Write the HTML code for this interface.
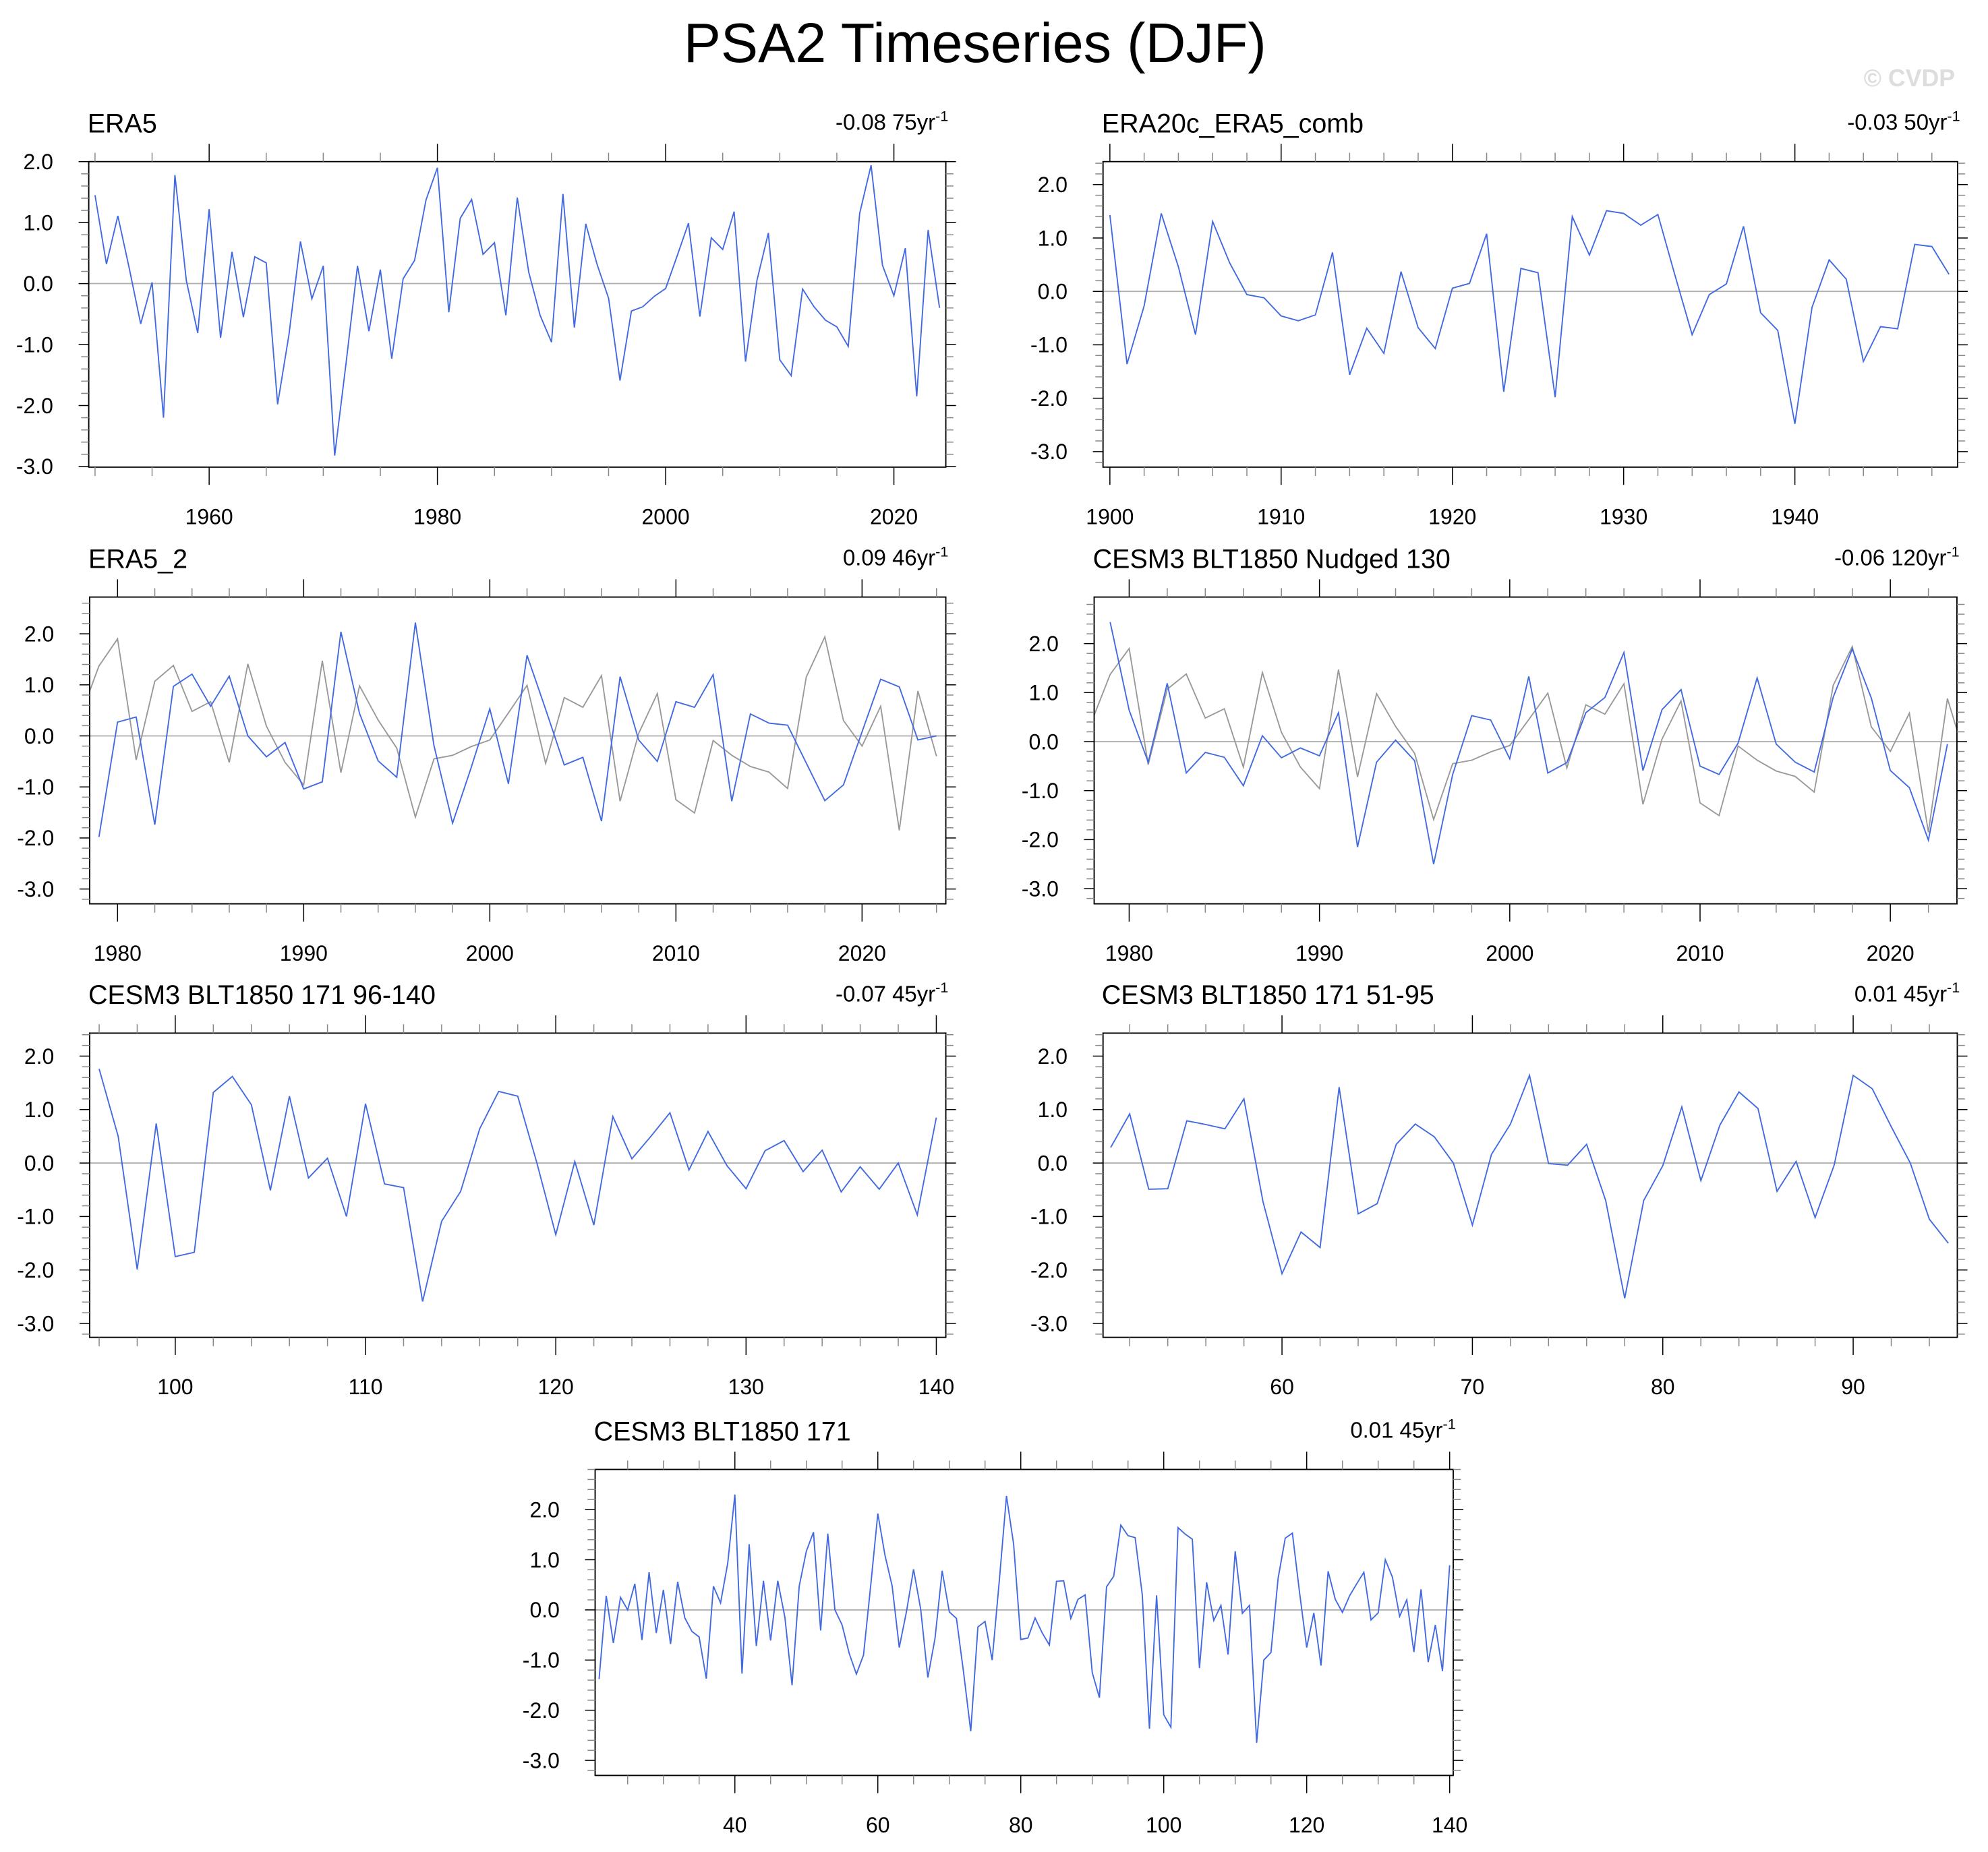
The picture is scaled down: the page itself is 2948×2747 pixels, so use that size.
<!DOCTYPE html>
<html><head><meta charset="utf-8"><style>
html,body{margin:0;padding:0;background:#fff;}
svg{display:block;font-family:"Liberation Sans",Arial,sans-serif;}
</style></head><body>
<svg id="fig" width="2948" height="2747" viewBox="0 0 1568 1461" preserveAspectRatio="none" xmlns="http://www.w3.org/2000/svg">
<text x="769" y="49" font-size="44" text-anchor="middle" fill="#000">PSA2 Timeseries (DJF)</text>
<text x="1542" y="68" font-size="19" font-weight="bold" text-anchor="end" fill="#ddd">© CVDP</text>
</svg>
<script>
// ---- data ----
const era5Start = 1950;
const era5Values = [1.45,0.32,1.11,0.25,-0.66,0.02,-2.2,1.78,0.05,-0.81,1.22,-0.89,0.52,-0.55,0.44,0.34,-1.98,-0.83,0.69,-0.25,0.29,-2.82,-1.3,0.29,-0.78,0.23,-1.23,0.08,0.38,1.37,1.9,-0.47,1.07,1.38,0.48,0.67,-0.52,1.41,0.19,-0.52,-0.96,1.47,-0.72,0.98,0.31,-0.24,-1.59,-0.45,-0.38,-0.21,-0.08,0.45,0.99,-0.54,0.75,0.56,1.18,-1.28,0.05,0.83,-1.25,-1.51,-0.09,-0.38,-0.6,-0.71,-1.03,1.15,1.94,0.3,-0.2,0.58,-1.85,0.88,-0.4];
const era20cStart = 1900;
const era20cValues = [1.43,-1.36,-0.27,1.46,0.46,-0.81,1.31,0.53,-0.06,-0.12,-0.46,-0.55,-0.44,0.73,-1.56,-0.69,-1.16,0.37,-0.68,-1.07,0.06,0.15,1.08,-1.88,0.43,0.35,-1.98,1.4,0.68,1.51,1.46,1.24,1.44,0.3,-0.81,-0.06,0.14,1.22,-0.4,-0.73,-2.48,-0.3,0.59,0.23,-1.31,-0.66,-0.7,0.88,0.84,0.32];
const era5b2Start = 1979;
const era5b2Values = [-1.98,0.27,0.37,-1.74,0.97,1.21,0.58,1.17,0.0,-0.41,-0.13,-1.04,-0.9,2.04,0.44,-0.49,-0.81,2.22,-0.19,-1.71,-0.62,0.53,-0.94,1.58,0.52,-0.57,-0.42,-1.67,1.16,-0.08,-0.5,0.67,0.56,1.2,-1.28,0.43,0.25,0.21,-0.53,-1.27,-0.96,0.08,1.11,0.96,-0.08,0.0];
const nudgedStart = 1979;
const nudgedValues = [2.44,0.64,-0.42,1.19,-0.64,-0.22,-0.32,-0.9,0.12,-0.33,-0.13,-0.29,0.59,-2.15,-0.42,0.03,-0.39,-2.5,-0.67,0.53,0.44,-0.35,1.33,-0.64,-0.43,0.59,0.9,1.82,-0.59,0.65,1.06,-0.5,-0.67,-0.03,1.3,-0.05,-0.42,-0.62,0.91,1.89,0.89,-0.59,-0.94,-2.01,-0.05];
const cesmAStart = 96;
const cesmAValues = [1.76,0.5,-1.99,0.74,-1.75,-1.67,1.32,1.62,1.09,-0.51,1.25,-0.28,0.09,-1.0,1.11,-0.39,-0.46,-2.59,-1.09,-0.53,0.64,1.34,1.25,0.01,-1.34,0.03,-1.16,0.87,0.08,0.5,0.94,-0.13,0.59,-0.05,-0.48,0.23,0.42,-0.16,0.24,-0.54,-0.07,-0.49,0.0,-0.97,0.85];
const cesmBStart = 51;
const cesmBValues = [0.29,0.92,-0.49,-0.48,0.79,0.72,0.64,1.2,-0.72,-2.07,-1.29,-1.58,1.42,-0.95,-0.76,0.35,0.73,0.49,0.0,-1.16,0.16,0.73,1.64,-0.01,-0.04,0.35,-0.7,-2.53,-0.7,-0.05,1.05,-0.33,0.71,1.33,1.02,-0.53,0.03,-1.02,-0.04,1.64,1.39,0.68,0.0,-1.05,-1.5];
const cesmFullStart = 21;
const cesmFullValues = [-1.38,0.28,-0.66,0.25,0.0,0.52,-0.6,0.75,-0.46,0.4,-0.68,0.56,-0.16,-0.43,-0.54,-1.37,0.47,0.14,0.93,2.3,-1.27,1.31,-0.72,0.58,-0.61,0.58,-0.15,-1.5,0.47,1.17,1.55,-0.41,1.52,0.0,-0.3,-0.87,-1.28,-0.9,0.48,1.92,1.09,0.48,-0.75,-0.04,0.81,0.01,-1.35,-0.57,0.78,-0.04,-0.17,-1.25,-2.42,-0.34,-0.23,-1.0,0.59,2.27,1.31,-0.59,-0.56,-0.16,-0.46,-0.7,0.57,0.58,-0.17,0.21,0.3,-1.25,-1.75,0.46,0.67,1.69,1.48,1.44,0.3,-2.37,0.29,-2.09,-2.34,1.64,1.51,1.41,-1.16,0.55,-0.21,0.09,-0.89,1.17,-0.07,0.09,-2.65,-1.0,-0.85,0.63,1.43,1.53,0.35,-0.75,-0.06,-1.11,0.77,0.21,-0.05,0.28,0.52,0.75,-0.2,-0.06,1.0,0.65,-0.13,0.2,-0.84,0.41,-1.04,-0.3,-1.22,0.89];
const yTickLabels = ["2.0","1.0","0.0","-1.0","-2.0","-3.0"];
const yTickValues = [2,1,0,-1,-2,-3];
const p1Ticks = [1960,1980,2000,2020];
const p2Ticks = [1900,1910,1920,1930,1940];
const p3Ticks = [1980,1990,2000,2010,2020];
const p5Ticks = [100,110,120,130,140];
const p6Ticks = [60,70,80,90];
const p7Ticks = [40,60,80,100,120,140];
const titles = ["ERA5","ERA20c_ERA5_comb","ERA5_2","CESM3 BLT1850 Nudged 130","CESM3 BLT1850 171 96-140","CESM3 BLT1850 171 51-95","CESM3 BLT1850 171"];
const trendText = ["-0.08 75yr","-0.03 50yr","0.09 46yr","-0.06 120yr","-0.07 45yr","0.01 45yr","0.01 45yr"];

// ---- layout ----
const NS = "http://www.w3.org/2000/svg";
const svg = document.getElementById('fig');
function mk(tag, attrs, parent){const e=document.createElementNS(NS,tag);for(const k in attrs)e.setAttribute(k,attrs[k]);(parent||svg).appendChild(e);return e;}

const panels = [
 {x0:70,x1:746,y0:127.5,y1:368.5,xd:[1949.45,2024.55],yd:[-3.01,2.0],ticks:p1Ticks,minor:5,series:[[era5Start,era5Values,'#4169e1']],name:'era5'},
 {x0:870,x1:1544,y0:127.5,y1:368.5,xd:[1899.6,1949.5],yd:[-3.29,2.43],ticks:p2Ticks,minor:2,series:[[era20cStart,era20cValues,'#4169e1']],name:'era20c'},
 {x0:70.7,x1:746,y0:471,y1:713,xd:[1978.5,2024.5],yd:[-3.29,2.72],ticks:p3Ticks,minor:2,series:[[era5Start,era5Values,'#999'],[era5b2Start,era5b2Values,'#4169e1']],name:'era5-2'},
 {x0:863,x1:1543.5,y0:471,y1:713,xd:[1978.16,2023.5],yd:[-3.31,2.95],ticks:p3Ticks,minor:2,series:[[era5Start,era5Values,'#999'],[nudgedStart,nudgedValues,'#4169e1']],name:'nudged'},
 {x0:70.7,x1:746,y0:815,y1:1055,xd:[95.5,140.5],yd:[-3.26,2.43],ticks:p5Ticks,minor:2,series:[[cesmAStart,cesmAValues,'#4169e1']],name:'cesm-96-140'},
 {x0:870,x1:1543.8,y0:815,y1:1055,xd:[50.6,95.47],yd:[-3.26,2.43],ticks:p6Ticks,minor:2,series:[[cesmBStart,cesmBValues,'#4169e1']],name:'cesm-51-95'},
 {x0:469.4,x1:1146.2,y0:1159.2,y1:1400.6,xd:[20.45,140.5],yd:[-3.3,2.8],ticks:p7Ticks,minor:5,series:[[cesmFullStart,cesmFullValues,'#4169e1']],name:'cesm-171'}
];

panels.forEach((p,i)=>{
  const g = mk('g',{});
  
  
  const sx = v => p.x0 + (v-p.xd[0])/(p.xd[1]-p.xd[0])*(p.x1-p.x0);
  const sy = v => p.y1 - (v-p.yd[0])/(p.yd[1]-p.yd[0])*(p.y1-p.y0);
  const cp = mk('clipPath',{id:'clip'+i},g);
  mk('rect',{x:p.x0,y:p.y0,width:p.x1-p.x0,height:p.y1-p.y0},cp);
  const zl = mk('line',{x1:p.x0,x2:p.x1,y1:sy(0),y2:sy(0),stroke:'#b0b0b0','stroke-width':1},g);
  
  
  p.series.forEach((s,k)=>{
    const pts = s[1].map((v,j)=>sx(s[0]+j).toFixed(2)+','+sy(v).toFixed(2)).join(' ');
    const pl = mk('polyline',{points:pts,fill:'none',stroke:s[2],'stroke-width':1,'clip-path':'url(#clip'+i+')','stroke-linejoin':'miter'},g);
    
    
  });
  const bx = mk('rect',{x:p.x0,y:p.y0,width:p.x1-p.x0,height:p.y1-p.y0,fill:'none',stroke:'#000','stroke-width':1},g);
  
  
  for(let t=Math.ceil(p.yd[0]*5);t<=Math.floor(p.yd[1]*5);t++){
    const v=t/5, y=sy(v), major=(t%5===0);
    const L = major?8:6, col = major?'#000':'#888';
    mk('line',{x1:p.x0-L,x2:p.x0,y1:y,y2:y,stroke:col,'stroke-width':0.8},g);
    mk('line',{x1:p.x1,x2:p.x1+L,y1:y,y2:y,stroke:col,'stroke-width':0.8},g);
  }
  yTickValues.forEach((v,j)=>{
    const tl = mk('text',{x:p.x0-28,y:sy(v)+6,'font-size':17,'text-anchor':'end',fill:'#000'},g);
    tl.textContent = yTickLabels[j];
    
    
  });
  for(let v=Math.ceil(p.xd[0]/p.minor)*p.minor; v<=p.xd[1]; v+=p.minor){
    const x=sx(v), major = p.ticks.includes(v) || (v% (p.ticks[1]-p.ticks[0])===0);
    const L = major?14:7, col = major?'#000':'#888';
    mk('line',{x1:x,x2:x,y1:p.y0-L,y2:p.y0,stroke:col,'stroke-width':0.8},g);
    mk('line',{x1:x,x2:x,y1:p.y1,y2:p.y1+L,stroke:col,'stroke-width':0.8},g);
  }
  p.ticks.forEach(v=>{
    const tl = mk('text',{x:sx(v),y:p.y1+45,'font-size':17,'text-anchor':'middle',fill:'#000'},g);
    tl.textContent = String(v);
    
    
  });
  const tt = mk('text',{x:p.x0-1,y:p.y0-23,'font-size':21,fill:'#000'},g);
  tt.textContent = titles[i];
  
  
  const tr = mk('text',{x:p.x1+2,y:p.y0-25,'font-size':17.5,'text-anchor':'end',fill:'#000'},g);
  
  
  const t1 = mk('tspan',{},tr); t1.textContent = trendText[i];
  const t2 = mk('tspan',{dy:-7,'font-size':11.5},tr); t2.textContent = '-1';
});
</script>
</body></html>
